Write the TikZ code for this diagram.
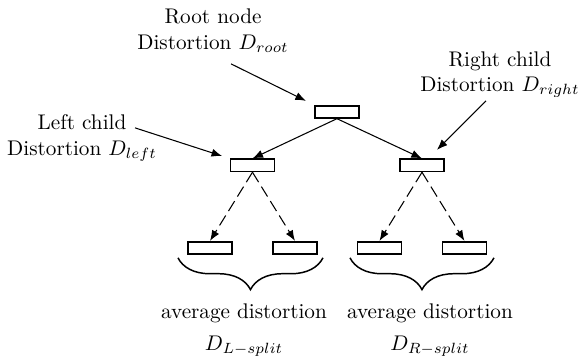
\documentclass[tikz,border=0pt]{standalone}
\usepackage{tikz}
\usetikzlibrary{positioning, calc, arrows.meta, decorations.pathreplacing}
\usepackage{amsmath, amssymb}

\tikzset{
    treebox/.style={draw, line width=0.8pt, minimum width=0.73cm, minimum height=0.2cm, inner sep=0pt},
    solidedge/.style={-{Latex[length=5pt,width=3.8pt]}, line width=0.5pt},
    dashedge/.style={-{Latex[length=5pt,width=3.8pt]}, line width=0.5pt, dash pattern=on 5.5pt off 2.5pt},
    bracedown/.style={decorate, decoration={brace, mirror, amplitude=15pt}, line width=0.7pt}
}

\begin{document}
\begin{tikzpicture}
        \useasboundingbox (0,0) rectangle (9.60,5.90);
        % nodi dell'albero
        \node[treebox] (root) at (5.587,4.046) {};
        \node[treebox] (lchild) at (4.186,3.158) {};
        \node[treebox] (rchild) at (6.997,3.158) {};
        \node[treebox] (ll) at (3.482,1.791) {};
        \node[treebox] (lr) at (4.891,1.791) {};
        \node[treebox] (rl) at (6.292,1.791) {};
        \node[treebox] (rr) at (7.701,1.791) {};
        % archi pieni
        \draw[solidedge] (root.south) -- (lchild.north);
        \draw[solidedge] (root.south) -- (rchild.north);
        % archi tratteggiati
        \draw[dashedge] (lchild.south) -- (ll.north);
        \draw[dashedge] (lchild.south) -- (lr.north);
        \draw[dashedge] (rchild.south) -- (rl.north);
        \draw[dashedge] (rchild.south) -- (rr.north);
        % etichette
        \node[align=center] (rootlabel) at (3.532,5.389) {Root node\\Distortion $D_{root}$};
        \node[align=center] (leftlabel) at (1.360,3.614) {Left child\\Distortion $D_{left}$};
        \node[align=center] (rightlabel) at (8.290,4.660) {Right child\\Distortion $D_{right}$};
        % frecce delle etichette
        \coordinate (roottail) at (3.830,4.841);
        \coordinate (lefttail) at (2.238,3.780);
        \coordinate (righttail) at (8.058,4.228);
        \coordinate (righthead) at (7.245,3.415);
        \draw[solidedge, shorten >=0.15cm] (roottail) -- (root.north west);
        \draw[solidedge, shorten >=0.13cm] (lefttail) -- (lchild.north west);
        \draw[solidedge] (righttail) -- (righthead);
        % graffe
        \draw[bracedown] (2.951,1.625) -- (5.355,1.625);
        \draw[bracedown] (5.803,1.625) -- (8.190,1.625);
        \node[align=center] (lsplit) at (4.046,0.43) {average distortion\\[3pt]$D_{L-split}$};
        \node[align=center] (rsplit) at (7.129,0.43) {average distortion\\[3pt]$D_{R-split}$};
    \end{tikzpicture}
\end{document}
